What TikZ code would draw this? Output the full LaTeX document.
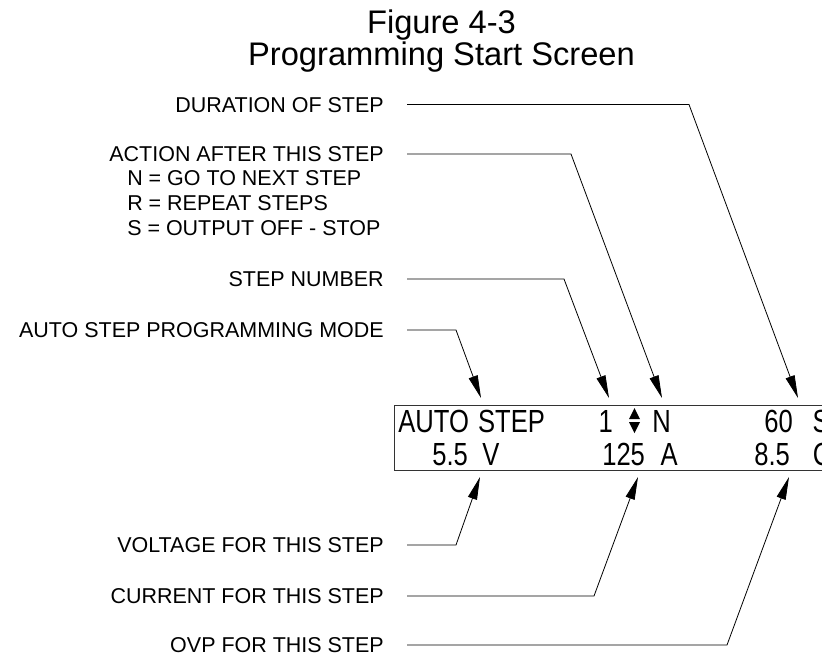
\documentclass[tikz,border=0pt]{standalone}
\usepackage{fontspec}
\setmainfont{Liberation Sans}
\usetikzlibrary{arrows.meta}
\newcommand\lcdtxt[1]{\scalebox{0.8}[1]{#1}}
\begin{document}
\begin{tikzpicture}[x=0.75pt,y=-0.75pt,
  title/.style={anchor=base,inner sep=0pt,font=\fontsize{24.5pt}{29pt}\selectfont},
  lab/.style={anchor=east,inner sep=0pt,text height=11.5pt,text depth=0pt,font=\fontsize{16.1pt}{19pt}\selectfont},
  opt/.style={lab,anchor=west},
  lcd/.style={anchor=base west,inner sep=0pt,font=\fontsize{24pt}{28pt}\selectfont},
  lcdbox/.style={draw=black!80,line width=0.9pt,anchor=north west,inner sep=0pt,minimum width=334.5pt,minimum height=48.75pt},
  conn/.style={line width=0.6pt,-{Triangle[length=17pt,width=7pt]}}]
\useasboundingbox (0,0) rectangle (822,662);
\clip (0,0) rectangle (822,662);
% title
\node[title] (t1) at (441.5,33) {Figure 4-3};
\node[title] (t2) at (441.5,65) {Programming Start Screen};
% labels
\node[lab] (dur) at (384,104.5) {DURATION OF STEP};
\node[lab] (act) at (384,154) {ACTION AFTER THIS STEP};
\node[opt] (optN) at (127,178) {N = GO TO NEXT STEP};
\node[opt] (optR) at (127,203) {R = REPEAT STEPS};
\node[opt] (optS) at (127,228) {S = OUTPUT OFF - STOP};
\node[lab] (stp) at (384,279) {STEP NUMBER};
\node[lab] (aut) at (384,330) {AUTO STEP PROGRAMMING MODE};
\node[lab] (vol) at (384,545) {VOLTAGE FOR THIS STEP};
\node[lab] (cur) at (384,596) {CURRENT FOR THIS STEP};
\node[lab] (ovp) at (384,645) {OVP FOR THIS STEP};
% display
\node[lcdbox] (lcd) at (394,405) {};
\node[lcd] (d1) at (398,432) {\lcdtxt{AUTO \hskip 2pt STEP}};
\node[lcd,anchor=base east] (d2) at (613,432) {\lcdtxt{1}};
\node[lcd] (d3) at (652,432) {\lcdtxt{N}};
\node[lcd] (d4) at (764,432) {\lcdtxt{60 \hskip 12pt S}};
\node[lcd] (d5) at (432,465) {\lcdtxt{5.5 \hskip 7pt V}};
\node[lcd] (d6) at (602,465) {\lcdtxt{125 \hskip 8pt A}};
\node[lcd] (d7) at (754,465) {\lcdtxt{8.5 \hskip 15pt C}};
\fill (629,419) -- (640,419) -- (634.5,408) -- cycle;
\fill (629,422) -- (640,422) -- (634.5,433) -- cycle;
% connector geometry
\coordinate (durK) at (689,104.5); \coordinate (durT) at (798,398);
\coordinate (actK) at (571,154);   \coordinate (actT) at (662,398);
\coordinate (stpK) at (564,279);   \coordinate (stpT) at (609,398);
\coordinate (autK) at (456,330);   \coordinate (autT) at (481,398);
\coordinate (volK) at (456,545);   \coordinate (volT) at (480,477);
\coordinate (curK) at (594,596);   \coordinate (curT) at (638,477);
\coordinate (ovpK) at (727,645);   \coordinate (ovpT) at (789,477);
\draw[conn] (dur.east) ++(23,0) -- (durK) -- (durT);
\draw[conn] (act.east) ++(23,0) -- (actK) -- (actT);
\draw[conn] (stp.east) ++(23,0) -- (stpK) -- (stpT);
\draw[conn] (aut.east) ++(23,0) -- (autK) -- (autT);
\draw[conn] (vol.east) ++(23,0) -- (volK) -- (volT);
\draw[conn] (cur.east) ++(23,0) -- (curK) -- (curT);
\draw[conn] (ovp.east) ++(23,0) -- (ovpK) -- (ovpT);
\end{tikzpicture}
\end{document}
